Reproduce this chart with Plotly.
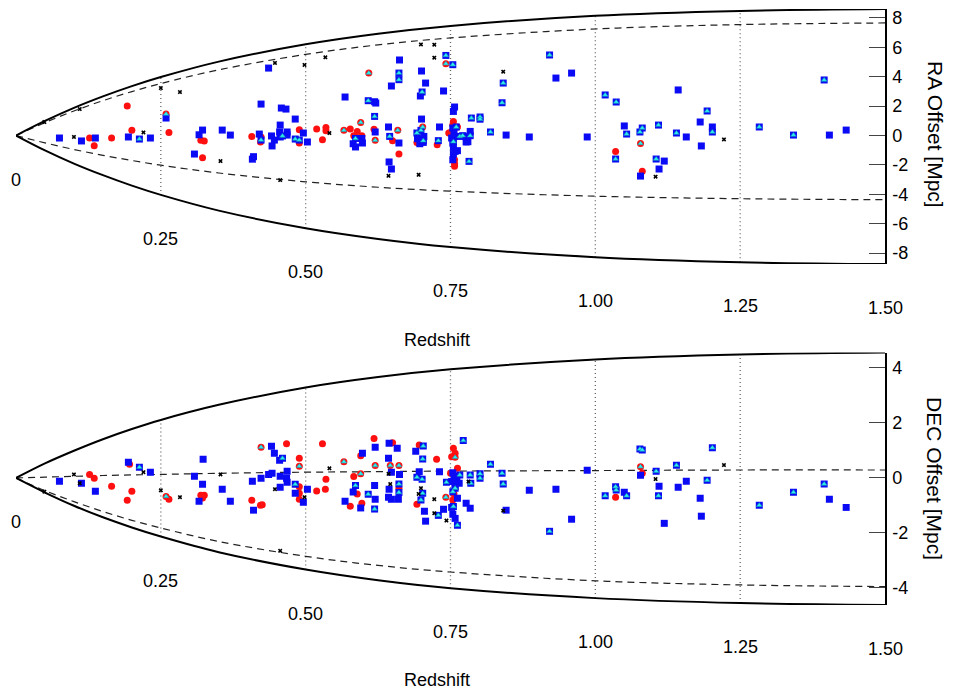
import plotly.graph_objects as go

# ---------------- envelope (cone) profiles ----------------
z_grid = [0, 0.05, 0.1, 0.15, 0.2, 0.25, 0.35, 0.5, 0.625, 0.75, 1.0, 1.25, 1.5]
ra_solid_hi = [0, 0.99, 1.88, 2.66, 3.36, 3.98, 5.03, 6.21, 6.93, 7.46, 8.15, 8.48, 8.61]
ra_solid_lo = [0, -1.01, -1.91, -2.70, -3.41, -4.04, -5.11, -6.31, -7.04, -7.59, -8.28, -8.62, -8.75]
ra_dash_hi = [0, 0.88, 1.67, 2.37, 2.99, 3.54, 4.47, 5.52, 6.17, 6.64, 7.25, 7.55, 7.66]
ra_dash_lo = [0, -0.50, -0.95, -1.35, -1.70, -2.02, -2.55, -3.15, -3.52, -3.79, -4.13, -4.30, -4.37]
dec_solid_hi = [0, 0.53, 0.99, 1.41, 1.78, 2.11, 2.66, 3.29, 3.67, 3.95, 4.31, 4.49, 4.56]
dec_solid_lo = [0, -0.53, -1.01, -1.43, -1.80, -2.13, -2.70, -3.33, -3.72, -4.01, -4.37, -4.55, -4.62]
dec_dash_hi = [0, 0.03, 0.06, 0.09, 0.11, 0.13, 0.17, 0.21, 0.23, 0.25, 0.27, 0.29, 0.29]
dec_dash_lo = [0, -0.46, -0.86, -1.22, -1.54, -1.82, -2.31, -2.85, -3.18, -3.42, -3.74, -3.89, -3.95]

z_ticks = [0, 0.25, 0.5, 0.75, 1.0, 1.25, 1.5]
z_ticktext = ["0", "0.25", "0.50", "0.75", "1.00", "1.25", "1.50"]
z_dotted = [0.25, 0.5, 0.75, 1.0, 1.25]
ra_ticks = [8, 6, 4, 2, 0, -2, -4, -6, -8]
dec_ticks = [4, 2, 0, -2, -4]

# ---------------- RA panel points (redshift, offset) ----------------
ra_blue = [
    [0.075, -0.17], [0.113, -0.37], [0.137, -0.17], [0.194, -0.10], [0.232, -0.17], [0.259, 1.19],
    [0.322, 0.37], [0.316, 0.05], [0.356, 0.37], [0.370, 0.03], [0.308, -1.26], [0.408, -1.61],
    [0.410, -1.44], [0.423, 2.14], [0.436, 4.59], [0.420, 0.10], [0.441, -0.03], [0.442, -0.71],
    [0.446, -0.31], [0.456, 0.71], [0.458, 1.87], [0.466, 1.80], [0.455, 0.24], [0.456, -0.10],
    [0.468, 0.24], [0.468, 0.03], [0.482, 1.12], [0.496, 0.17], [0.503, -0.44],
    [0.662, 5.14], [0.700, 4.39], [0.707, 3.57], [0.648, 3.37], [0.738, 3.03], [0.698, 2.69],
    [0.568, 2.62], [0.619, 2.30], [0.621, 2.21], [0.700, 1.12], [0.643, 0.58], [0.731, 0.58],
    [0.620, 0.24], [0.661, -0.51], [0.597, -0.20], [0.598, -0.51], [0.582, -0.56], [0.586, -0.78],
    [0.644, -1.80], [0.648, -2.28], [0.693, -0.22], [0.704, -0.06], [0.697, -0.56], [0.757, 1.94],
    [0.755, 1.64], [0.846, 0.03], [0.777, -0.44], [0.784, 0.28], [0.754, 0.51], [0.756, 0.17],
    [0.752, -0.17], [0.757, -0.06], [0.754, -0.51], [0.755, -0.78], [0.758, -1.08], [0.762, -1.03],
    [0.754, -1.65], [0.755, -1.24], [0.780, -0.42], [0.777, -0.08], [0.703, -0.47],
    [0.886, -0.10], [0.932, 3.91], [0.959, 4.25], [0.986, -0.10], [1.050, 0.65], [1.143, 3.10],
    [1.157, -0.10], [1.181, 0.92], [1.183, -0.71], [1.202, 0.58], [1.119, -1.74], [1.110, -2.28],
    [1.078, -2.76], [1.404, 0.03], [1.433, 0.37],
]
ra_blue_tri = [
    [0.213, -0.24], [0.423, -0.31], [0.460, -0.03], [0.482, -0.24], [0.489, -0.31], [0.742, 5.45],
    [0.754, 4.82], [0.661, 4.25], [0.661, 3.80], [0.701, 2.96], [0.608, 2.37], [0.619, 1.30],
    [0.841, 3.57], [0.839, 2.23], [0.801, 1.26], [0.801, 1.11], [0.786, 1.19], [0.645, -0.06],
    [0.586, -0.20], [0.692, 0.17], [0.703, -0.35], [0.729, -0.35], [0.819, 0.24], [0.782, -1.76],
    [0.766, -0.06], [0.771, -0.01], [0.760, 0.58], [0.755, -0.42], [0.784, -0.01], [0.699, 0.35],
    [0.921, 5.48], [1.017, 2.76], [1.036, 2.28], [1.054, 0.10], [1.077, 0.24], [1.081, 0.51],
    [1.109, 0.71], [1.140, 0.17], [1.193, 1.67], [1.202, 0.24], [1.035, -1.60], [1.105, -1.60],
    [1.283, 0.58], [1.342, 0.03], [1.395, 3.78],
]
ra_red = [
    [0.192, 2.01], [0.200, 0.35], [0.127, -0.17], [0.135, -0.69], [0.165, -0.17], [0.264, 0.21],
    [0.319, -0.33], [0.325, -0.37], [0.322, -1.51], [0.407, -0.06], [0.423, -0.10], [0.422, -0.44],
    [0.489, 0.39], [0.489, -0.51], [0.519, 0.44], [0.535, 0.55], [0.535, 0.33], [0.529, -0.29],
    [0.577, 0.44], [0.589, 0.28], [0.583, -0.01], [0.597, -0.01], [0.618, 0.42], [0.650, -0.35],
    [0.661, -1.26], [0.694, -0.40], [0.697, -0.51], [0.727, -0.63], [0.755, 0.96], [0.754, 0.71],
    [0.752, 0.28], [0.747, 0.17], [0.762, 0.58], [0.757, -1.65], [0.757, -2.10], [0.757, -1.92],
    [1.035, -1.08], [1.081, -2.44], [0.692, -0.47],
]
ra_red_tri = [
    [0.259, 1.46], [0.742, 4.89], [0.609, 4.25], [0.595, 0.89], [0.566, 0.35], [0.659, 0.35],
    [0.620, -0.33], [0.702, 0.58], [1.078, -0.54],
]
ra_cross = [
    [0.049, 0.92], [0.100, -0.10], [0.110, 1.80], [0.220, 0.21], [0.250, 3.23], [0.283, 2.96],
    [0.353, -1.74], [0.447, 4.94], [0.498, 4.80], [0.456, -3.03], [0.534, 5.32], [0.699, 6.20],
    [0.722, 6.18], [0.722, 5.30], [0.841, 4.34], [0.541, 0.17], [0.643, -2.74], [0.695, -2.67],
    [1.222, -0.27], [1.104, -2.80],
]

# ---------------- DEC panel points (redshift, offset) ----------------
dec_blue = [
    [0.075, -0.12], [0.113, -0.19], [0.137, -0.48], [0.194, 0.57], [0.232, 0.21], [0.323, 0.68],
    [0.308, 0.06], [0.322, -0.23], [0.316, -0.85], [0.356, -0.41], [0.370, -0.85], [0.408, -0.12],
    [0.410, -1.17], [0.423, -0.01], [0.436, 0.13], [0.441, 1.15], [0.446, 0.90], [0.455, 0.64],
    [0.456, 0.06], [0.442, 0.17], [0.468, 0.24], [0.467, -0.01], [0.468, -0.16], [0.456, -0.34],
    [0.482, -0.56], [0.496, -0.88], [0.503, -0.41], [0.568, -0.85], [0.598, 0.90], [0.595, -1.09],
    [0.582, -0.51], [0.620, 1.12], [0.619, -0.27], [0.620, -0.77], [0.644, 1.26], [0.658, 1.08],
    [0.643, 0.72], [0.648, 0.21], [0.662, 0.13], [0.644, -0.41], [0.643, -0.70], [0.648, -0.77],
    [0.660, -0.77], [0.690, 0.97], [0.696, 0.23], [0.705, -1.21], [0.707, -1.57], [0.738, -1.14],
    [0.731, 0.23], [0.758, -1.47], [0.777, -0.92], [0.784, -1.10], [0.846, -1.17],
    [0.754, 0.19], [0.756, 0.05], [0.761, -0.13], [0.752, -0.13], [0.765, -0.19], [0.758, -0.32],
    [0.762, -0.74], [0.752, -1.07], [0.754, -1.32],
    [0.886, -0.45], [0.932, -0.41], [0.959, -1.50], [0.986, 0.28], [1.050, -0.52], [1.078, 0.10],
    [1.110, -0.30], [1.119, -1.65], [1.143, -0.34], [1.157, -0.12], [1.181, -0.74], [1.183, -1.39],
    [1.404, -0.77], [1.433, -1.07],
]
dec_blue_tri = [
    [0.213, 0.39], [0.460, 0.72], [0.482, -0.23], [0.703, 1.16], [0.702, 0.69], [0.692, 0.03],
    [0.701, -0.05], [0.586, -0.27], [0.608, -0.59], [0.619, -1.13], [0.661, -0.22], [0.661, -0.53],
    [0.702, -0.56], [0.699, -0.80], [0.729, -1.36], [0.772, 1.36], [0.743, -0.16], [0.766, 0.11],
    [0.784, 0.11], [0.785, -0.19], [0.801, 0.15], [0.801, -0.01], [0.819, 0.50], [0.839, 0.17],
    [0.841, -0.22], [0.762, -1.72], [0.755, -1.04], [0.758, -0.37], [0.754, -0.50],
    [0.921, -1.94], [1.017, -0.65], [1.035, -0.32], [1.036, -0.44], [1.054, -0.65], [1.077, 1.05],
    [1.081, 1.02], [1.105, 0.24], [1.109, -0.65], [1.140, 0.46], [1.193, -0.08], [1.202, 1.10],
    [1.283, -0.99], [1.342, -0.52], [1.395, -0.22],
]
dec_red = [
    [0.127, 0.13], [0.135, -0.01], [0.165, -0.30], [0.200, -0.48], [0.192, -0.81], [0.196, 0.50],
    [0.264, -0.77], [0.319, -0.63], [0.325, -0.63], [0.322, -0.73], [0.407, -0.81], [0.422, -0.99],
    [0.425, -0.97], [0.467, 1.24], [0.489, 0.72], [0.489, -0.32], [0.489, -0.56], [0.489, -0.77],
    [0.519, -0.47], [0.529, 1.24], [0.535, -0.05], [0.534, -0.41], [0.577, -1.03], [0.583, 0.05],
    [0.589, -0.58], [0.597, -0.92], [0.595, 0.81], [0.618, 1.44], [0.650, 1.28], [0.661, -0.37],
    [0.696, 1.20], [0.692, -0.96], [0.726, 0.68], [0.750, 0.17], [0.755, 1.08], [0.758, 0.90],
    [0.752, 0.77], [0.762, 0.35], [0.754, -0.80], [0.756, -0.58], [1.035, -0.70], [1.081, 0.17],
]
dec_red_tri = [
    [0.259, -0.67], [0.423, 1.12], [0.489, 0.43], [0.566, 0.59], [0.595, 0.15], [0.620, 0.45],
    [0.646, 0.45], [0.661, 0.45], [0.742, -0.70], [1.078, 0.41], [0.758, 0.75],
]
dec_cross = [
    [0.049, -0.50], [0.100, 0.13], [0.110, -0.19], [0.220, 0.21], [0.250, -0.45], [0.283, -0.70],
    [0.353, 0.13], [0.447, -0.41], [0.498, -0.70], [0.456, -2.65], [0.541, 0.35], [0.643, 0.15],
    [0.646, -0.22], [0.695, -0.58], [0.699, -0.37], [0.722, -0.77], [0.722, -1.28], [0.743, -1.55],
    [0.841, -1.19], [0.781, -0.13], [1.104, -0.04], [1.222, 0.47],
]


def unzip(pairs):
    return [p[0] for p in pairs], [p[1] for p in pairs]


FONT = "Liberation Sans, Arial, Helvetica, sans-serif"
fig = go.Figure()

panels = [
    ("x", "y", ra_solid_hi, ra_solid_lo, ra_dash_hi, ra_dash_lo,
     ra_blue, ra_blue_tri, ra_red, ra_red_tri, ra_cross),
    ("x2", "y2", dec_solid_hi, dec_solid_lo, dec_dash_hi, dec_dash_lo,
     dec_blue, dec_blue_tri, dec_red, dec_red_tri, dec_cross),
]

for (xa, ya, s_hi, s_lo, d_hi, d_lo, blue, btri, red, rtri, cross) in panels:
    # dotted redshift markers inside the cone
    for zd in z_dotted:
        i = z_grid.index(zd)
        fig.add_trace(go.Scatter(x=[zd, zd], y=[s_lo[i], s_hi[i]], mode="lines",
                                 line=dict(color="#666666", width=1.3, dash="1px,3px"),
                                 xaxis=xa, yaxis=ya, hoverinfo="skip"))
    for ys in (d_hi, d_lo):
        fig.add_trace(go.Scatter(x=z_grid, y=ys, mode="lines",
                                 line=dict(color="#222222", width=1.2, dash="7px,5px", shape="spline"),
                                 xaxis=xa, yaxis=ya, hoverinfo="skip"))
    for ys in (s_hi, s_lo):
        fig.add_trace(go.Scatter(x=z_grid, y=ys, mode="lines",
                                 line=dict(color="black", width=2, shape="spline"),
                                 xaxis=xa, yaxis=ya, hoverinfo="skip"))
    # red circles (plain and with triangle)
    rz, rv = unzip(red + rtri)
    fig.add_trace(go.Scatter(x=rz, y=rv, mode="markers", xaxis=xa, yaxis=ya,
                             marker=dict(symbol="circle", size=7, color="#ff1010", line=dict(width=0))))
    # blue squares (plain and with triangle)
    bz, bv = unzip(blue + btri)
    fig.add_trace(go.Scatter(x=bz, y=bv, mode="markers", xaxis=xa, yaxis=ya,
                             marker=dict(symbol="square", size=7, color="#0a0af5", line=dict(width=0))))
    # cyan triangles
    tz, tv = unzip(btri + rtri)
    fig.add_trace(go.Scatter(x=tz, y=tv, mode="markers", xaxis=xa, yaxis=ya,
                             marker=dict(symbol="triangle-up", size=5, color="#30f0f0",
                                         line=dict(width=0.6, color="#109ab0"))))
    # black crosses
    cz, cv = unzip(cross)
    fig.add_trace(go.Scatter(x=cz, y=cv, mode="markers", xaxis=xa, yaxis=ya,
                             marker=dict(symbol="x", size=4, color="black", line=dict(width=0))))

annotations = []
for zt, lab in zip(z_ticks, z_ticktext):
    i = z_grid.index(zt)
    annotations.append(dict(x=zt, y=ra_solid_lo[i], xref="x", yref="y", text=lab, showarrow=False,
                            yshift=-44, font=dict(size=18, family=FONT, color="black")))
    annotations.append(dict(x=zt, y=dec_solid_lo[i], xref="x2", yref="y2", text=lab, showarrow=False,
                            yshift=-44, font=dict(size=18, family=FONT, color="black")))

W, H = 953, 696
ml, mr, mt, mb = 16, 68, 9, 91
pw, ph = W - ml - mr, H - mt - mb


def px2paper(px, py):
    return (px - ml) / pw, (H - mb - py) / ph


for (px, py, txt, ang, sz) in [(437, 340, "Redshift", 0, 18), (437, 680, "Redshift", 0, 18),
                               (935, 134, "RA Offset [Mpc]", 90, 21),
                               (935, 478, "DEC Offset [Mpc]", 90, 21)]:
    ax_, ay_ = px2paper(px, py)
    annotations.append(dict(x=ax_, y=ay_, xref="paper", yref="paper", text=txt, showarrow=False,
                            textangle=ang, xanchor="center", yanchor="middle",
                            font=dict(size=sz, family=FONT, color="black")))

yaxis_common = dict(side="right", showline=True, linecolor="black", linewidth=1.5,
                    ticks="inside", ticklen=16, tickcolor="#444444", tickwidth=1.2,
                    showgrid=False, zeroline=False, ticklabelstandoff=2,
                    tickfont=dict(size=18, family=FONT, color="black"))

fig.update_layout(
    width=W, height=H,
    margin=dict(l=ml, r=mr, t=mt, b=mb),
    paper_bgcolor="white", plot_bgcolor="white",
    showlegend=False,
    xaxis=dict(domain=[0, 1], range=[0, 1.5], visible=False, anchor="y"),
    xaxis2=dict(domain=[0, 1], range=[0, 1.5], visible=False, anchor="y2"),
    yaxis=dict(domain=[0.572, 1.0], range=[ra_solid_lo[-1], ra_solid_hi[-1]], anchor="x",
               tickvals=ra_ticks, ticktext=[str(v) for v in ra_ticks], **yaxis_common),
    yaxis2=dict(domain=[0, 0.4235], range=[dec_solid_lo[-1], dec_solid_hi[-1]], anchor="x2",
                tickvals=dec_ticks, ticktext=[str(v) for v in dec_ticks], **yaxis_common),
    annotations=annotations,
)

fig.write_html("out.html")
